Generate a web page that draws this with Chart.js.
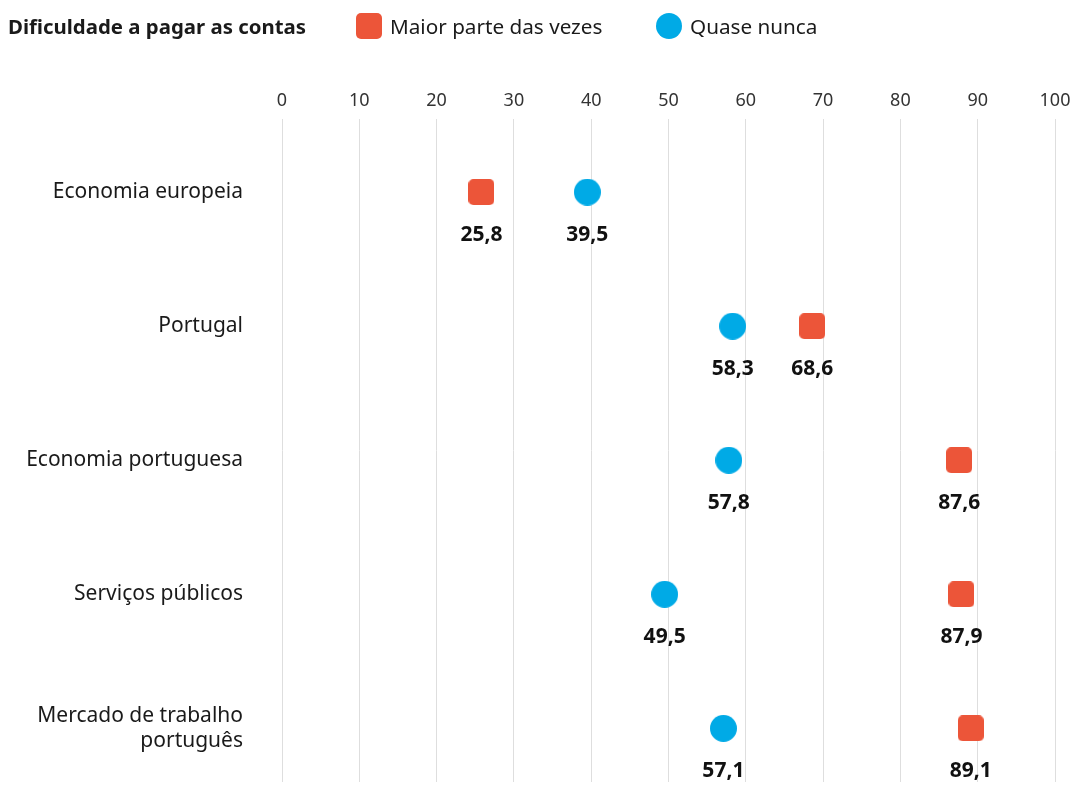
<!DOCTYPE html>
<html lang="pt">
<head>
<meta charset="utf-8">
<title>Dificuldade a pagar as contas</title>
<script src="https://cdn.jsdelivr.net/npm/chart.js@4/dist/chart.umd.min.js"></script>
<style>
  html, body { margin: 0; padding: 0; background: #fff; overflow: hidden; }
  body { width: 1074px; height: 787px; position: relative; font-family: "Noto Sans", sans-serif; color: #1a1a1a; }
  #wrap { position: absolute; left: 0; top: 0; width: 1074px; height: 787px; }
  .head { position: absolute; top: 13px; height: 26px; line-height: 26px; font-size: 20.7px; white-space: nowrap; }
  .head.title { left: 8px; font-weight: 700; font-size: 20.4px; }
  .key { display: inline-block; width: 26px; height: 26px; vertical-align: top; margin-right: 8px; }
  .key.sq { border-radius: 5px; }
  .key.ci { border-radius: 50%; }
</style>
</head>
<body>
<div id="wrap"><canvas id="chart" width="1074" height="787"></canvas></div>
<div class="head title">Dificuldade a pagar as contas</div>
<div class="head" id="leg0" style="left:356px"></div>
<div class="head" id="leg1" style="left:656px"></div>
<script>
const categorias = ["Economia europeia", "Portugal", "Economia portuguesa", "Serviços públicos", ["Mercado de trabalho", "português"]];
const maiorParte = [25.8, 68.6, 87.6, 87.9, 89.1];
const quaseNunca = [39.5, 58.3, 57.8, 49.5, 57.1];
const seriesNomes = ["Maior parte das vezes", "Quase nunca"];
const xTicks = [0, 10, 20, 30, 40, 50, 60, 70, 80, 90, 100];

const VERMELHO = "#ec5539";
const AZUL = "#00aae6";
const FONTE = "'Noto Sans'";

// little canvases used as point styles
function marker(shape, color) {
  const c = document.createElement("canvas");
  const s = shape === "circle" ? 27 : 26;
  c.width = s; c.height = s;
  const ctx = c.getContext("2d");
  ctx.fillStyle = color;
  ctx.beginPath();
  if (shape === "circle") ctx.arc(s / 2, s / 2, s / 2, 0, Math.PI * 2);
  else ctx.roundRect(0, 0, s, s, 5);
  ctx.fill();
  return c;
}

// html legend next to the title
document.getElementById("leg0").innerHTML = '<span class="key sq" style="background:' + VERMELHO + '"></span>' + seriesNomes[0];
document.getElementById("leg1").innerHTML = '<span class="key ci" style="background:' + AZUL + '"></span>' + seriesNomes[1];

const fmt = v => v.toFixed(1).replace(".", ",");

// value under each marker
const valueLabels = {
  id: "valueLabels",
  afterDatasetsDraw(chart) {
    const ctx = chart.ctx;
    ctx.save();
    ctx.font = "700 21px " + FONTE;
    ctx.fillStyle = "#111";
    ctx.textAlign = "center";
    ctx.textBaseline = "middle";
    chart.data.datasets.forEach((ds, i) => {
      chart.getDatasetMeta(i).data.forEach((pt, j) => {
        ctx.fillText(fmt(ds.data[j].x), pt.x, pt.y + 43);
      });
    });
    ctx.restore();
  }
};

new Chart(document.getElementById("chart"), {
  type: "scatter",
  data: {
    datasets: [{
      label: seriesNomes[0],
      data: maiorParte.map((v, i) => ({ x: v, y: i })),
      pointStyle: marker("rect", VERMELHO),
      backgroundColor: VERMELHO
    }, {
      label: seriesNomes[1],
      data: quaseNunca.map((v, i) => ({ x: v, y: i })),
      pointStyle: marker("circle", AZUL),
      backgroundColor: AZUL
    }]
  },
  options: {
    responsive: false,
    animation: false,
    events: [],
    layout: { padding: { top: 83, right: 19, bottom: 0, left: 0 } },
    plugins: { legend: { display: false }, tooltip: { enabled: false } },
    scales: {
      x: {
        position: "top",
        min: 0,
        max: 100,
        afterBuildTicks: s => { s.ticks = xTicks.map(v => ({ value: v })); },
        afterFit: s => { s.paddingLeft = 0; s.paddingRight = 0; },
        ticks: { font: { family: FONTE, size: 18 }, color: "#333", padding: 7 },
        grid: { color: "#dedede", drawTicks: false },
        border: { display: false }
      },
      y: {
        type: "linear",
        reverse: true,
        min: -0.548,
        max: 4.4,
        afterBuildTicks: s => { s.ticks = categorias.map((c, i) => ({ value: i })); },
        afterFit: s => { s.width = 282; s.paddingTop = 0; s.paddingBottom = 0; },
        ticks: {
          callback: v => categorias[v],
          font: { family: FONTE, size: 21 },
          color: "#1a1a1a",
          padding: 39
        },
        grid: { display: false, drawTicks: false },
        border: { display: false }
      }
    }
  },
  plugins: [valueLabels]
});
</script>
</body>
</html>
